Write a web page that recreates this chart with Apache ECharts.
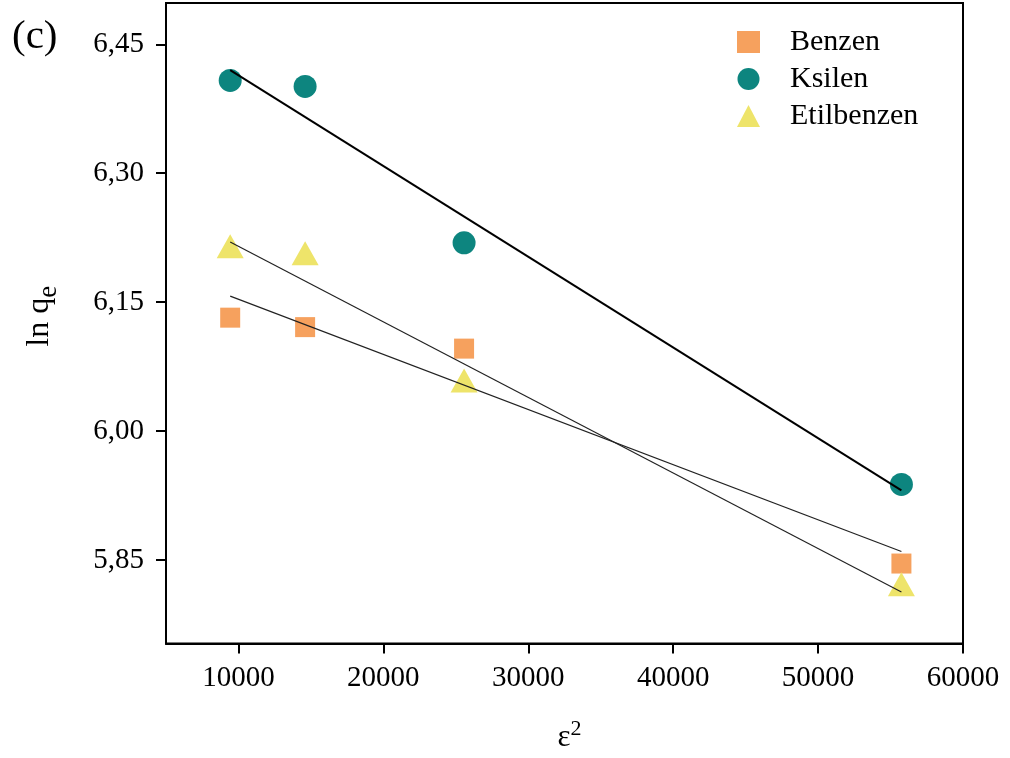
<!DOCTYPE html>
<html>
<head>
<meta charset="utf-8">
<script src="https://cdn.jsdelivr.net/npm/echarts@6/dist/echarts.min.js"></script>
<style>
  html, body { margin: 0; padding: 0; background: #ffffff; }
  #chart { width: 1010px; height: 758px; }
</style>
</head>
<body>
<div id="chart"></div>
<script>
// ε² values shared by all three adsorbates
const epsilon2 = [9430, 14600, 25570, 55750];

// ln qe per adsorbate
const benzen = [6.132, 6.121, 6.096, 5.846];
const ksilen = [6.408, 6.401, 6.219, 5.938];
const etilbenzen = [6.215, 6.207, 6.059, 5.822];

// Linear fit lines: start/end ln qe over the ε² span
const fitSpan = [9430, 55750];
const benzenFit = [6.157, 5.860];
const ksilenFit = [6.420, 5.931];
const etilbenzenFit = [6.220, 5.813];

// Axis tick labels
const xTicks = [10000, 20000, 30000, 40000, 50000, 60000];
const yTicks = [5.85, 6.00, 6.15, 6.30, 6.45];

const FONT = "'Liberation Serif', 'DejaVu Serif', serif";
const colors = { Benzen: '#F6A15E', Ksilen: '#0D857F', Etilbenzen: '#EEE46A' };

const pairs = (xs, ys) => xs.map((x, i) => [x, ys[i]]);

const chart = echarts.init(document.getElementById('chart'), null, { renderer: 'canvas' });

chart.setOption({
  backgroundColor: '#ffffff',
  animation: false,
  textStyle: { fontFamily: FONT, color: '#000' },
  grid: {
    left: 166, right: 47, top: 3, bottom: 113,
    show: true, borderColor: '#000', borderWidth: 2, backgroundColor: 'transparent'
  },
  legend: {
    orient: 'vertical',
    left: 737, top: 27,
    padding: 0,
    itemWidth: 23, itemHeight: 22,
    itemGap: 7,
    textStyle: {
      fontFamily: FONT, fontSize: 30, color: '#000', lineHeight: 30,
      padding: [0, 0, 0, 25]
    },
    data: [
      { name: 'Benzen', icon: 'rect' },
      { name: 'Ksilen', icon: 'circle' },
      { name: 'Etilbenzen', icon: 'triangle' }
    ]
  },
  xAxis: {
    type: 'value',
    min: 5000, max: 60000,
    name: '{m|ε}{s|2}',
    nameLocation: 'middle',
    nameGap: 75,
    nameTextStyle: {
      padding: [0, 0, 0, 10],
      rich: {
        m: { fontFamily: FONT, fontSize: 31, lineHeight: 38, color: '#000' },
        s: { fontFamily: FONT, fontSize: 22, lineHeight: 22, verticalAlign: 'top', color: '#000' }
      }
    },
    axisLine: { show: true, onZero: false, lineStyle: { color: '#000', width: 2 } },
    axisTick: { show: true, length: 10, customValues: xTicks, lineStyle: { color: '#000', width: 2 } },
    axisLabel: {
      customValues: xTicks,
      margin: 20,
      fontFamily: FONT, fontSize: 29, color: '#000',
      formatter: v => String(v)
    },
    splitLine: { show: false }
  },
  yAxis: {
    type: 'value',
    min: 5.753, max: 6.498,
    name: '{m|ln q}{s|e}',
    nameLocation: 'middle',
    nameGap: 104,
    nameRotate: 90,
    nameTextStyle: {
      padding: [0, 0, 0, 14],
      rich: {
        m: { fontFamily: FONT, fontSize: 32, lineHeight: 44, color: '#000' },
        s: { fontFamily: FONT, fontSize: 27, lineHeight: 27, verticalAlign: 'bottom', color: '#000' }
      }
    },
    axisLine: { show: true, onZero: false, lineStyle: { color: '#000', width: 2 } },
    axisTick: { show: true, length: 10, customValues: yTicks, lineStyle: { color: '#000', width: 2 } },
    axisLabel: {
      customValues: yTicks,
      margin: 22,
      fontFamily: FONT, fontSize: 29, color: '#000',
      formatter: v => v.toFixed(2).replace('.', ',')
    },
    splitLine: { show: false }
  },
  graphic: [{
    type: 'text',
    left: 12, top: 17,
    style: { text: '(c)', font: "41px 'Liberation Serif', serif", fill: '#000' }
  }],
  series: [
    {
      name: 'Benzen', type: 'scatter', symbol: 'rect', symbolSize: 20,
      itemStyle: { color: colors.Benzen, opacity: 1 },
      data: pairs(epsilon2, benzen), z: 2
    },
    {
      name: 'Ksilen', type: 'scatter', symbol: 'circle', symbolSize: 23,
      itemStyle: { color: colors.Ksilen, opacity: 1 },
      data: pairs(epsilon2, ksilen), z: 2
    },
    {
      name: 'Etilbenzen', type: 'scatter', symbol: 'triangle', symbolSize: [27, 24],
      itemStyle: { color: colors.Etilbenzen, opacity: 1 },
      data: pairs(epsilon2, etilbenzen), z: 2
    },
    {
      name: 'Ksilen fit', type: 'line', showSymbol: false, symbol: 'none', silent: true,
      lineStyle: { color: '#000', width: 2 },
      data: pairs(fitSpan, ksilenFit), z: 3
    },
    {
      name: 'Benzen fit', type: 'line', showSymbol: false, symbol: 'none', silent: true,
      lineStyle: { color: '#222', width: 1.2 },
      data: pairs(fitSpan, benzenFit), z: 3
    },
    {
      name: 'Etilbenzen fit', type: 'line', showSymbol: false, symbol: 'none', silent: true,
      lineStyle: { color: '#222', width: 1.2 },
      data: pairs(fitSpan, etilbenzenFit), z: 3
    }
  ]
});
</script>
</body>
</html>
